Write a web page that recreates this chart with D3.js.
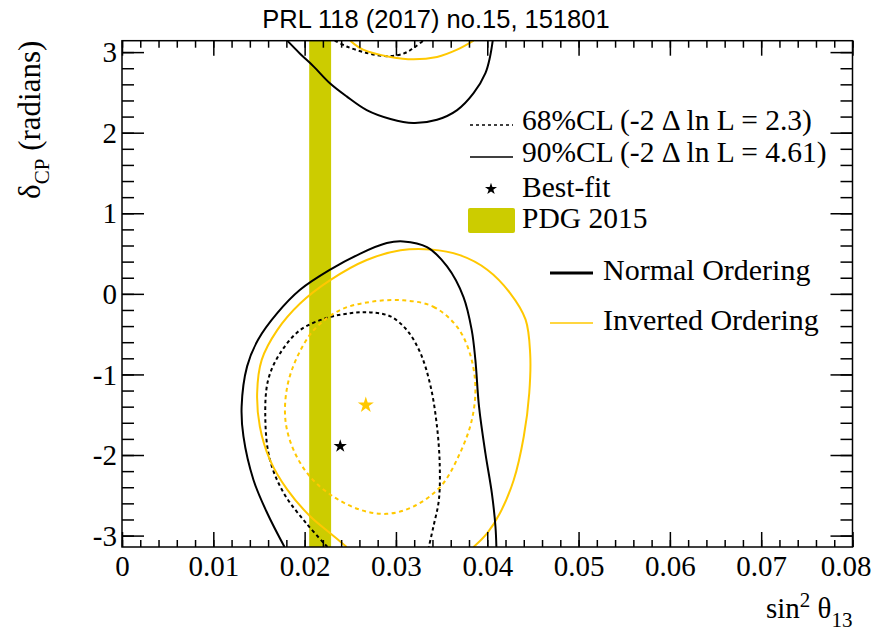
<!DOCTYPE html>
<html>
<head>
<meta charset="utf-8">
<script src="https://cdn.jsdelivr.net/npm/d3@7"></script>
<style>
	body {margin: 0; background: #fff;}
	svg {display: block;}
	.serif {font-family: "Liberation Serif", "Times New Roman", serif;}
</style>
</head>
<body>
<svg width="874" height="632"></svg>
<script>
// axis ticks
let xTicks = [0, 0.01, 0.02, 0.03, 0.04, 0.05, 0.06, 0.07, 0.08];
let yTicks = [-3, -2, -1, 0, 1, 2, 3];

// PDG 2015 band in sin^2 theta13
let pdgBand = [0.0205, 0.0229];

// best-fit points [sin2, deltaCP]
let bestNO = [0.0239, -1.89];
let bestIO = [0.0267, -1.38];

// Normal ordering, 90% CL (lower part and wrapped part near +pi)
let no90Low = [[0.0178, -3.142], [0.0159, -2.72], [0.0144, -2.31], [0.0133, -1.77], [0.0131, -1.40],
	[0.0137, -0.90], [0.0149, -0.57], [0.0170, -0.24], [0.0195, 0.05], [0.0228, 0.30], [0.0261, 0.50],
	[0.0290, 0.63], [0.0308, 0.65], [0.0334, 0.58], [0.0356, 0.34], [0.0374, -0.04], [0.0383, -0.45],
	[0.0387, -0.82], [0.0391, -1.40], [0.0398, -1.98], [0.0405, -2.47], [0.0409, -2.89], [0.0410, -3.142]];
let no90High = [[0.0181, 3.142], [0.0195, 2.98], [0.0210, 2.82], [0.0228, 2.61], [0.0246, 2.45],
	[0.0268, 2.28], [0.0294, 2.17], [0.0319, 2.12], [0.0345, 2.16], [0.0367, 2.28], [0.0385, 2.49],
	[0.0398, 2.74], [0.0403, 2.94], [0.0406, 3.142]];

// Normal ordering, 68% CL
let no68Low = [[0.0225, -3.142], [0.0202, -2.85], [0.0177, -2.47], [0.0162, -2.06], [0.0157, -1.57],
	[0.0160, -1.07], [0.0173, -0.74], [0.0195, -0.45], [0.0224, -0.30], [0.0250, -0.24], [0.0272, -0.23],
	[0.0294, -0.28], [0.0312, -0.45], [0.0327, -0.74], [0.0338, -1.15], [0.0345, -1.65], [0.0348, -2.14],
	[0.0347, -2.56], [0.0341, -2.89], [0.0336, -3.142]];
let no68High = [[0.0233, 3.142], [0.0246, 3.07], [0.0268, 2.99], [0.0290, 2.95], [0.0308, 2.98],
	[0.0319, 3.05], [0.0330, 3.142]];

// Inverted ordering, 90% CL
let io90Low = [[0.0246, -3.142], [0.0228, -2.97], [0.0206, -2.76], [0.0181, -2.43], [0.0162, -2.06],
	[0.0151, -1.65], [0.0148, -1.23], [0.0153, -0.82], [0.0170, -0.45], [0.0195, -0.12], [0.0228, 0.17],
	[0.0268, 0.42], [0.0305, 0.54], [0.0338, 0.55], [0.0370, 0.48], [0.0400, 0.30], [0.0425, 0.01],
	[0.0442, -0.32], [0.0447, -0.74], [0.0446, -1.23], [0.0440, -1.77], [0.0429, -2.31], [0.0414, -2.72],
	[0.0400, -2.97], [0.0385, -3.142]];
let io90High = [[0.0250, 3.142], [0.0264, 3.03], [0.0294, 2.94], [0.0319, 2.91], [0.0345, 2.94],
	[0.0367, 3.03], [0.0385, 3.142]];

// Inverted ordering, 68% CL (closed)
let io68 = [[0.0308, -0.08], [0.0341, -0.16], [0.0367, -0.41], [0.0381, -0.74], [0.0387, -1.15],
	[0.0383, -1.57], [0.0370, -1.98], [0.0349, -2.39], [0.0319, -2.64], [0.0290, -2.73], [0.0261, -2.68],
	[0.0232, -2.52], [0.0206, -2.27], [0.0188, -1.94], [0.0179, -1.57], [0.0181, -1.15], [0.0192, -0.78],
	[0.0210, -0.45], [0.0239, -0.20], [0.0272, -0.10]];

let legendTop = ["68%CL (-2 \u0394 ln L = 2.3)", "90%CL (-2 \u0394 ln L = 4.61)", "Best-fit", "PDG 2015"];
let legendOrder = ["Normal Ordering", "Inverted Ordering"];

let black = "#000";
let gold = "#ffc800";
let olive = "#cccc00";

let svg = d3.select("svg");
let margin = {top: 40.7, right: 21.5, bottom: 85, left: 122};
let width = 874 - margin.left - margin.right;
let height = 632 - margin.top - margin.bottom;

let xscale = d3.scaleLinear().domain([0, 0.08]).range([margin.left, margin.left + width]);
let yscale = d3.scaleLinear().domain([-Math.PI, Math.PI]).range([margin.top + height, margin.top]);

svg.append("defs").append("clipPath").attr("id", "frame")
	.append("rect")
		.attr("x", margin.left).attr("y", margin.top)
		.attr("width", width).attr("height", height);

let plot = svg.append("g").attr("clip-path", "url(#frame)");

// PDG band
plot.append("rect")
	.attr("x", xscale(pdgBand[0]))
	.attr("y", margin.top)
	.attr("width", xscale(pdgBand[1]) - xscale(pdgBand[0]))
	.attr("height", height)
	.attr("fill", olive);

let line = d3.line()
	.x(function(d) {return xscale(d[0]);})
	.y(function(d) {return yscale(d[1]);})
	.curve(d3.curveCatmullRom.alpha(0.5));
let closedLine = d3.line()
	.x(function(d) {return xscale(d[0]);})
	.y(function(d) {return yscale(d[1]);})
	.curve(d3.curveCatmullRomClosed.alpha(0.5));

let contours = [
	{pts: no68Low, color: black, dash: "3.5,3", closed: false},
	{pts: no68High, color: black, dash: "3.5,3", closed: false},
	{pts: io68, color: gold, dash: "4,3.5", closed: true},
	{pts: io90Low, color: gold, dash: null, closed: false},
	{pts: io90High, color: gold, dash: null, closed: false},
	{pts: no90Low, color: black, dash: null, closed: false},
	{pts: no90High, color: black, dash: null, closed: false}
];

plot.selectAll(".contour")
	.data(contours)
	.enter()
	.append("path")
		.attr("class", "contour")
		.attr("d", function(d) {return d.closed ? closedLine(d.pts) : line(d.pts);})
		.attr("fill", "none")
		.attr("stroke", function(d) {return d.color;})
		.attr("stroke-width", 2)
		.attr("stroke-dasharray", function(d) {return d.dash;});

// best-fit stars
let star = d3.symbol().type(d3.symbolStar);
plot.selectAll(".bestfit")
	.data([{p: bestNO, color: black, size: 55}, {p: bestIO, color: gold, size: 80}])
	.enter()
	.append("path")
		.attr("class", "bestfit")
		.attr("transform", function(d) {return "translate(" + xscale(d.p[0]) + "," + yscale(d.p[1]) + ")";})
		.attr("d", function(d) {return star.size(d.size)();})
		.attr("fill", function(d) {return d.color;});

// axes, ROOT style ticks on all sides pointing inwards
let xMinor = d3.range(0, 0.0801, 0.002);
let yMinor = d3.range(-3, 3.01, 0.2);

function tickGroup(axis) {
	let g = svg.append("g").call(axis);
	g.select(".domain").remove();
	g.selectAll("line").attr("stroke", black).attr("stroke-width", 1.5);
	return g;
}

tickGroup(d3.axisBottom(xscale).tickValues(xMinor).tickSize(-7).tickFormat(""))
	.attr("transform", "translate(0," + (margin.top + height) + ")");
tickGroup(d3.axisTop(xscale).tickValues(xMinor).tickSize(-7).tickFormat(""))
	.attr("transform", "translate(0," + margin.top + ")");
tickGroup(d3.axisTop(xscale).tickValues(xTicks).tickSize(-15).tickFormat(""))
	.attr("transform", "translate(0," + margin.top + ")");
let xaxis = tickGroup(d3.axisBottom(xscale).tickValues(xTicks).tickSize(-15).tickPadding(8)
	.tickFormat(function(d) {return d === 0 ? "0" : d3.format(".2f")(d);}))
	.attr("transform", "translate(0," + (margin.top + height) + ")");
xaxis.selectAll("text")
	.attr("class", "serif")
	.attr("font-size", 29)
	.attr("fill", black)
	.attr("dy", "0.71em");
// last label pulled in so it stays inside the picture
xaxis.selectAll("text")
	.filter(function(d) {return d === 0.08;})
	.attr("x", -7);

tickGroup(d3.axisLeft(yscale).tickValues(yMinor).tickSize(-12).tickFormat(""))
	.attr("transform", "translate(" + margin.left + ",0)");
tickGroup(d3.axisRight(yscale).tickValues(yMinor).tickSize(-12).tickFormat(""))
	.attr("transform", "translate(" + (margin.left + width) + ",0)");
tickGroup(d3.axisRight(yscale).tickValues(yTicks).tickSize(-22).tickFormat(""))
	.attr("transform", "translate(" + (margin.left + width) + ",0)");
let yaxis = tickGroup(d3.axisLeft(yscale).tickValues(yTicks).tickSize(-22).tickPadding(5)
	.tickFormat(function(d) {return String(d);}))
	.attr("transform", "translate(" + margin.left + ",0)");
yaxis.selectAll("text")
	.attr("class", "serif")
	.attr("font-size", 29)
	.attr("fill", black)
	.attr("dy", "0.33em");

// frame
svg.append("rect")
	.attr("x", margin.left).attr("y", margin.top)
	.attr("width", width).attr("height", height)
	.attr("fill", "none")
	.attr("stroke", black)
	.attr("stroke-width", 1.5);

// title
svg.append("text")
	.attr("x", 436)
	.attr("y", 28)
	.attr("text-anchor", "middle")
	.attr("font-family", "Liberation Sans, Arial, sans-serif")
	.attr("font-size", 25.5)
	.attr("fill", black)
	.text("PRL 118 (2017) no.15, 151801");

// x axis title
let xlabel = svg.append("text")
	.attr("class", "serif")
	.attr("x", margin.left + width)
	.attr("y", 618)
	.attr("text-anchor", "end")
	.attr("font-size", 29)
	.attr("fill", black);
xlabel.append("tspan").text("sin");
xlabel.append("tspan").attr("font-size", 21).attr("dy", -11).text("2");
xlabel.append("tspan").attr("dy", 11).text(" \u03b8");
xlabel.append("tspan").attr("font-size", 21).attr("dy", 9).text("13");

// y axis title
let ylabel = svg.append("text")
	.attr("class", "serif")
	.attr("transform", "translate(40," + margin.top + ")rotate(-90)")
	.attr("text-anchor", "end")
	.attr("font-size", 31)
	.attr("fill", black);
ylabel.append("tspan").text("\u03b4");
ylabel.append("tspan").attr("font-size", 21).attr("dy", 9).text("CP");
ylabel.append("tspan").attr("dy", -9).text(" (radians)");

// legend, upper block
let leg = svg.append("g");
leg.append("line")
	.attr("x1", 470).attr("x2", 513).attr("y1", 125).attr("y2", 125)
	.attr("stroke", black).attr("stroke-width", 1.5).attr("stroke-dasharray", "3,3");
leg.append("line")
	.attr("x1", 470).attr("x2", 513).attr("y1", 157).attr("y2", 157)
	.attr("stroke", black).attr("stroke-width", 1.5);
leg.append("path")
	.attr("transform", "translate(491,189)")
	.attr("d", star.size(45)())
	.attr("fill", black);
leg.append("rect")
	.attr("x", 468).attr("y", 208).attr("width", 47).attr("height", 25).attr("rx", 2)
	.attr("fill", olive);
leg.selectAll(".legtop")
	.data(legendTop)
	.enter()
	.append("text")
		.attr("class", "legtop serif")
		.attr("x", 522)
		.attr("y", function(d, i) {return [130, 162, 197, 228][i];})
		.attr("font-size", 29.5)
		.attr("fill", black)
		.text(function(d) {return d;});

// legend, orderings
leg.append("line")
	.attr("x1", 550).attr("x2", 593).attr("y1", 273).attr("y2", 273)
	.attr("stroke", black).attr("stroke-width", 3);
leg.append("line")
	.attr("x1", 550).attr("x2", 593).attr("y1", 323).attr("y2", 323)
	.attr("stroke", gold).attr("stroke-width", 1.5);
leg.selectAll(".legorder")
	.data(legendOrder)
	.enter()
	.append("text")
		.attr("class", "legorder serif")
		.attr("x", 603)
		.attr("y", function(d, i) {return 280 + i * 50;})
		.attr("font-size", 30)
		.attr("fill", black)
		.text(function(d) {return d;});
</script>
</body>
</html>
